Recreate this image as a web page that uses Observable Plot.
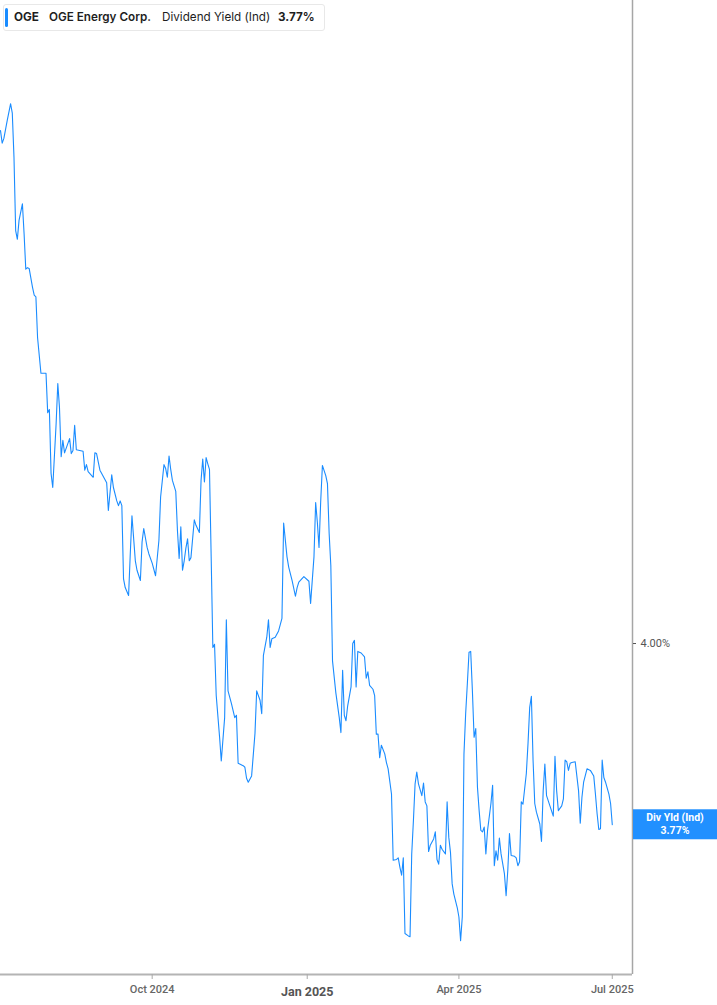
<!DOCTYPE html>
<html><head><meta charset="utf-8">
<script src="https://cdn.jsdelivr.net/npm/d3@7"></script>
<script src="https://cdn.jsdelivr.net/npm/@observablehq/plot@0.6"></script>
<style>
body{margin:0;background:#fff;font-family:Inter,"Noto Sans",sans-serif;}
#wrap{position:relative;width:717px;height:1005px;}
#legend{position:absolute;left:3px;top:4px;height:27px;width:322px;box-sizing:border-box;border:1px solid #e8e8e8;border-radius:3px;background:#fff;font-size:11.7px;color:#1e1e1e;white-space:nowrap;z-index:2;}
#legend .bar{position:absolute;left:1px;top:3px;bottom:3px;width:3px;background:#1a8cff;border-radius:2px}
#legend span{position:absolute;top:5px;line-height:15px}
</style></head>
<body>
<div id="wrap">
  <div id="legend"><div class="bar"></div>
    <span id="lg-sym" style="left:10px;font-weight:700"></span>
    <span id="lg-name" style="left:45px;font-weight:600"></span>
    <span id="lg-metric" style="left:158px;font-weight:400"></span>
    <span id="lg-val" style="left:274px;font-weight:700"></span>
  </div>
  <div id="chart"></div>
</div>
<script>
const ticker = "OGE";
const companyName = "OGE Energy Corp.";
const metricName = "Dividend Yield (Ind)";
const tagName = "Div Yld (Ind)";

const dates = [
"2024-07-03","2024-07-04","2024-07-05","2024-07-07","2024-07-09","2024-07-10","2024-07-11","2024-07-12","2024-07-13","2024-07-14","2024-07-16","2024-07-17","2024-07-18","2024-07-19","2024-07-20","2024-07-22","2024-07-23","2024-07-24","2024-07-25","2024-07-27","2024-07-30","2024-07-31",
"2024-08-01","2024-08-02","2024-08-03","2024-08-05","2024-08-06","2024-08-07","2024-08-08","2024-08-09","2024-08-10","2024-08-13","2024-08-14","2024-08-15","2024-08-16","2024-08-17","2024-08-21","2024-08-22","2024-08-23","2024-08-24","2024-08-27","2024-08-28","2024-08-29","2024-08-31",
"2024-09-04","2024-09-05","2024-09-07","2024-09-08","2024-09-10","2024-09-11","2024-09-12","2024-09-13","2024-09-14","2024-09-15","2024-09-17","2024-09-18","2024-09-19","2024-09-21","2024-09-22","2024-09-24","2024-09-25","2024-09-26","2024-09-28","2024-09-29",
"2024-10-01","2024-10-03","2024-10-05","2024-10-06","2024-10-08","2024-10-09","2024-10-10","2024-10-11","2024-10-12","2024-10-13","2024-10-15","2024-10-16","2024-10-17","2024-10-18","2024-10-19","2024-10-20","2024-10-21","2024-10-22","2024-10-23","2024-10-24","2024-10-26","2024-10-27","2024-10-29","2024-10-30","2024-10-31",
"2024-11-01","2024-11-02","2024-11-03","2024-11-04","2024-11-05","2024-11-06","2024-11-07","2024-11-08","2024-11-10","2024-11-11","2024-11-13","2024-11-14","2024-11-15","2024-11-17","2024-11-19","2024-11-20","2024-11-21","2024-11-24","2024-11-25","2024-11-26","2024-11-27","2024-11-29",
"2024-12-01","2024-12-02","2024-12-04","2024-12-05","2024-12-06","2024-12-08","2024-12-09","2024-12-10","2024-12-11","2024-12-13","2024-12-15","2024-12-16","2024-12-17","2024-12-18","2024-12-20","2024-12-21","2024-12-23","2024-12-25","2024-12-26","2024-12-27","2024-12-30",
"2025-01-02","2025-01-03","2025-01-05","2025-01-06","2025-01-07","2025-01-08","2025-01-09","2025-01-10","2025-01-12","2025-01-13","2025-01-14","2025-01-15","2025-01-16","2025-01-18","2025-01-20","2025-01-21","2025-01-22","2025-01-23","2025-01-24","2025-01-25","2025-01-27","2025-01-28","2025-01-29","2025-01-30","2025-01-31",
"2025-02-02","2025-02-04","2025-02-05","2025-02-06","2025-02-07","2025-02-09","2025-02-10","2025-02-11","2025-02-12","2025-02-13","2025-02-14","2025-02-16","2025-02-17","2025-02-18","2025-02-20","2025-02-21","2025-02-23","2025-02-24","2025-02-25","2025-02-26","2025-02-27","2025-02-28",
"2025-03-02","2025-03-03","2025-03-04","2025-03-05","2025-03-06","2025-03-07","2025-03-08","2025-03-10","2025-03-11","2025-03-12","2025-03-13","2025-03-14","2025-03-15","2025-03-17","2025-03-18","2025-03-19","2025-03-20","2025-03-21","2025-03-22","2025-03-24","2025-03-25","2025-03-26","2025-03-27","2025-03-28","2025-03-29","2025-03-31",
"2025-04-01","2025-04-02","2025-04-03","2025-04-04","2025-04-05","2025-04-06","2025-04-07","2025-04-08","2025-04-09","2025-04-10","2025-04-11","2025-04-12","2025-04-13","2025-04-14","2025-04-15","2025-04-16","2025-04-17","2025-04-18","2025-04-20","2025-04-21","2025-04-22","2025-04-23","2025-04-24","2025-04-25","2025-04-26","2025-04-28","2025-04-29","2025-04-30",
"2025-05-01","2025-05-02","2025-05-04","2025-05-05","2025-05-06","2025-05-07","2025-05-08","2025-05-09","2025-05-11","2025-05-12","2025-05-13","2025-05-14","2025-05-15","2025-05-16","2025-05-17","2025-05-19","2025-05-20","2025-05-21","2025-05-22","2025-05-23","2025-05-25","2025-05-27","2025-05-28","2025-05-29","2025-05-30",
"2025-06-01","2025-06-02","2025-06-03","2025-06-04","2025-06-05","2025-06-06","2025-06-07","2025-06-09","2025-06-11","2025-06-12","2025-06-13","2025-06-14","2025-06-16","2025-06-18","2025-06-20","2025-06-21","2025-06-22","2025-06-23","2025-06-24","2025-06-25","2025-06-26","2025-06-27","2025-06-29","2025-06-30","2025-07-01"
];

const yields = [
4.651,4.635,4.641,4.664,4.685,4.673,4.617,4.524,4.513,4.537,4.558,4.520,4.475,4.477,4.476,4.452,4.442,4.440,4.388,4.343,4.343,4.293,
4.297,4.216,4.198,4.279,4.330,4.299,4.237,4.258,4.242,4.260,4.241,4.245,4.277,4.246,4.244,4.220,4.227,4.218,4.211,4.242,4.241,4.220,
4.204,4.169,4.214,4.198,4.181,4.175,4.181,4.175,4.082,4.071,4.061,4.114,4.162,4.105,4.093,4.080,4.129,4.146,4.122,4.114,
4.102,4.086,4.131,4.186,4.227,4.222,4.211,4.238,4.221,4.207,4.193,4.143,4.108,4.148,4.093,4.105,4.121,4.133,4.105,4.109,4.157,4.150,4.141,4.207,4.234,
4.205,4.236,4.228,4.221,4.110,3.995,3.999,3.934,3.881,3.851,3.906,4.030,3.940,3.924,3.906,3.909,3.848,3.845,3.843,3.829,3.824,3.832,
3.886,3.940,3.928,3.911,3.985,4.008,4.030,3.995,4.006,4.008,4.016,4.024,4.032,4.153,4.110,4.097,4.080,4.060,4.071,4.078,4.085,
4.079,4.051,4.110,4.179,4.154,4.122,4.181,4.226,4.213,4.203,4.140,4.099,3.978,3.937,3.906,3.887,3.966,3.909,3.902,3.921,3.945,4.000,4.004,3.945,3.990,
3.988,3.983,3.956,3.964,3.947,3.942,3.934,3.885,3.885,3.855,3.871,3.860,3.849,3.841,3.809,3.725,3.726,3.728,3.716,3.706,3.728,3.632,
3.629,3.628,3.733,3.775,3.822,3.837,3.822,3.807,3.823,3.799,3.794,3.736,3.744,3.752,3.761,3.726,3.720,3.744,3.739,3.733,3.799,3.754,3.735,3.695,3.682,3.665,
3.653,3.623,3.653,3.860,3.911,3.949,3.989,3.990,3.940,3.881,3.892,3.818,3.788,3.763,3.761,3.767,3.733,3.763,3.797,3.820,3.718,3.737,3.725,3.753,3.733,3.708,3.680,3.712,
3.759,3.731,3.730,3.728,3.718,3.723,3.799,3.796,3.835,3.873,3.919,3.933,3.852,3.797,3.786,3.771,3.749,3.813,3.847,3.807,3.794,3.781,3.857,3.813,3.788,
3.794,3.803,3.852,3.850,3.839,3.848,3.849,3.850,3.813,3.772,3.805,3.824,3.841,3.839,3.832,3.809,3.784,3.764,3.765,3.852,3.830,3.824,3.809,3.797,3.770
];

const xTicks = ["2024-10-01","2025-04-01","2025-07-01"];
const xTickYear = ["2025-01-01"];
const yTicks = [4.0];
const xDomainStr = ["2024-07-03","2025-07-13"];
const yDomain = [3.58, 4.816];

const parse = d3.utcParse("%Y-%m-%d");
const data = dates.map((d, i) => ({date: parse(d), value: yields[i]}));
const last = data[data.length - 1];
const fmtPct = v => v.toFixed(2) + "%";
const fmtDate = d3.utcFormat("%b %Y");
const blue = "#1a8cff";

document.getElementById("lg-sym").textContent = ticker;
document.getElementById("lg-name").textContent = companyName;
document.getElementById("lg-metric").textContent = metricName;
document.getElementById("lg-val").textContent = fmtPct(last.value);

function lastTag(point) {
  return (index, scales, values, dims) => {
    const g = d3.create("svg:g");
    const y = scales.y(point.value);
    const x0 = dims.width - dims.marginRight + 1;
    g.append("rect").attr("x", x0).attr("y", y - 15).attr("width", dims.width - x0).attr("height", 30).attr("fill", "#2190ff");
    const cx = (x0 + dims.width) / 2;
    g.append("text").attr("x", cx).attr("y", y - 3).attr("text-anchor", "middle")
      .attr("fill", "#fff").attr("font-weight", 700).attr("font-size", 10.5).text(tagName);
    g.append("text").attr("x", cx).attr("y", y + 9.5).attr("text-anchor", "middle")
      .attr("fill", "#fff").attr("font-weight", 700).attr("font-size", 10.5).text(fmtPct(point.value));
    return g.node();
  };
}

const chart = Plot.plot({
  width: 717,
  height: 1005,
  marginLeft: 0,
  marginRight: 85,
  marginTop: 0,
  marginBottom: 31,
  style: {fontFamily: "Roboto, 'Noto Sans', sans-serif", background: "#fff", overflow: "visible"},
  x: {type: "utc", domain: xDomainStr.map(parse)},
  y: {domain: yDomain},
  marks: [
    Plot.ruleY([yDomain[0]], {stroke: "#b4b4b4", strokeWidth: 2}),
    Plot.ruleX([parse(xDomainStr[1])], {stroke: "#a6a6a6", strokeWidth: 1.5}),
    Plot.axisX({ticks: xTicks.map(parse), tickFormat: fmtDate, tickSize: 5, tickPadding: 6, stroke: "#aaa", fill: "#666", fontSize: 11, fontWeight: 500, label: null}),
    Plot.axisX({ticks: xTickYear.map(parse), tickFormat: fmtDate, tickSize: 5, tickPadding: 8, stroke: "#aaa", fill: "#555", fontSize: 12.5, fontWeight: 700, label: null}),
    Plot.axisY({anchor: "right", ticks: yTicks, tickFormat: fmtPct, tickSize: 3, tickPadding: 5, stroke: "#555", fill: "#555", fontSize: 11, label: null}),
    Plot.lineY(data, {x: "date", y: "value", stroke: blue, strokeWidth: 1.1}),
    lastTag(last)
  ]
});
document.getElementById("chart").appendChild(chart);
</script>
</body></html>
